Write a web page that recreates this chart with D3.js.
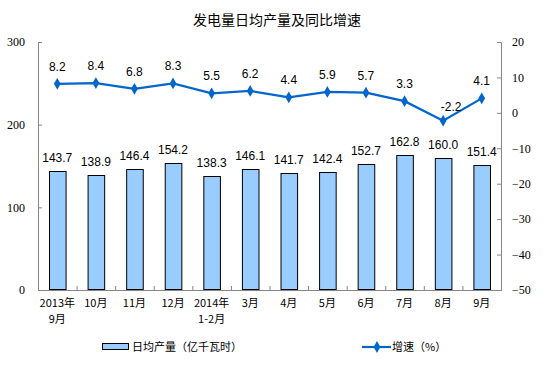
<!DOCTYPE html>
<html>
<head>
<meta charset="utf-8">
<script src="https://cdn.jsdelivr.net/npm/d3@7"></script>
<style>
  body { margin: 0; background: #fff; }
  .tickText { font-family: "Liberation Serif", serif; font-size: 12px; fill: #000; }
  .catText { font-family: "Noto Sans CJK SC", sans-serif; font-size: 11px; fill: #000; }
  .valText { font-family: "Liberation Sans", Arial, sans-serif; font-size: 12px; fill: #000; }
</style>
</head>
<body>
<div id="chart"></div>
<script>
var categories = [["2013年", "9月"], ["10月"], ["11月"], ["12月"], ["2014年", "1-2月"], ["3月"],
  ["4月"], ["5月"], ["6月"], ["7月"], ["8月"], ["9月"]];
var output = [143.7, 138.9, 146.4, 154.2, 138.3, 146.1, 141.7, 142.4, 152.7, 162.8, 160.0, 151.4];
var growth = [8.2, 8.4, 6.8, 8.3, 5.5, 6.2, 4.4, 5.9, 5.7, 3.3, -2.2, 4.1];
var leftTicks = [0, 100, 200, 300];
var rightTicks = [20, 10, 0, -10, -20, -30, -40, -50];

var svgWidth = 554;
var svgHeight = 382;
var margin = { top: 42, right: 53, bottom: 92, left: 38 };
var width = svgWidth - margin.left - margin.right;
var height = svgHeight - margin.top - margin.bottom;

var svg = d3.select("#chart")
  .append("svg")
  .attr("width", svgWidth)
  .attr("height", svgHeight);

svg.append("text")
  .attr("x", svgWidth / 2)
  .attr("y", 25)
  .attr("text-anchor", "middle")
  .style("font-family", "'Noto Sans CJK SC', sans-serif")
  .style("font-size", "14px")
  .text("发电量日均产量及同比增速");

var chartGroup = svg.append("g")
  .attr("transform", `translate(${margin.left}, ${margin.top})`);

var idx = d3.range(categories.length);

var xScale = d3.scaleBand()
  .domain(idx)
  .range([0, width])
  .paddingInner(0.57)
  .paddingOuter(0.285);

var xEdge = d3.scaleLinear()
  .domain([0, categories.length])
  .range([0, width]);

var yLeft = d3.scaleLinear().domain([0, 300]).range([height, 0]);
var yRight = d3.scaleLinear().domain([-50, 20]).range([height, 0]);

var axisColor = "#868686";

// left axis
var leftAxis = chartGroup.append("g")
  .call(d3.axisLeft(yLeft).tickValues(leftTicks).tickSizeInner(-4).tickSizeOuter(-4).tickPadding(13));
leftAxis.selectAll("text").attr("class", "tickText");

// right axis
var rightAxis = chartGroup.append("g")
  .attr("transform", `translate(${width}, 0)`)
  .call(d3.axisRight(yRight).tickValues(rightTicks).tickSizeInner(-4).tickSizeOuter(-4).tickPadding(11));
rightAxis.selectAll("text").attr("class", "tickText");

// bottom axis line and ticks between categories
var bottomAxis = chartGroup.append("g")
  .attr("transform", `translate(0, ${height})`)
  .call(d3.axisBottom(xEdge).tickValues(d3.range(1, categories.length)).tickSizeInner(-4).tickSizeOuter(0).tickFormat(""));

[leftAxis, rightAxis, bottomAxis].forEach(function(a) {
  a.select(".domain").attr("stroke", axisColor);
  a.selectAll(".tick line").attr("stroke", axisColor);
});

// bars
chartGroup.selectAll("rect.bar")
  .data(output)
  .enter()
  .append("rect")
  .attr("class", "bar")
  .attr("x", (d, i) => xScale(i) + 0.5)
  .attr("y", d => Math.round(yLeft(d)) + 0.5)
  .attr("width", xScale.bandwidth())
  .attr("height", d => height - Math.round(yLeft(d)) - 1)
  .attr("fill", "#99ccff")
  .attr("stroke", "#000")
  .attr("stroke-width", 1);

chartGroup.selectAll("text.barLabel")
  .data(output)
  .enter()
  .append("text")
  .attr("class", "valText")
  .attr("text-anchor", "middle")
  .attr("x", (d, i) => xScale(i) + xScale.bandwidth() / 2)
  .attr("y", d => yLeft(d) - 9)
  .text(d => d.toFixed(1));

// growth line
var line = d3.line()
  .x((d, i) => xScale(i) + xScale.bandwidth() / 2)
  .y(d => yRight(d));

chartGroup.append("path")
  .datum(growth)
  .attr("d", line)
  .attr("fill", "none")
  .attr("stroke", "#0066cc")
  .attr("stroke-width", 2.2);

var diamond = d3.symbol().type(d3.symbolDiamond).size(40);

chartGroup.selectAll("path.marker")
  .data(growth)
  .enter()
  .append("path")
  .attr("class", "marker")
  .attr("d", diamond)
  .attr("transform", (d, i) => `translate(${xScale(i) + xScale.bandwidth() / 2}, ${yRight(d)})`)
  .attr("fill", "#0066cc");

chartGroup.selectAll("text.lineLabel")
  .data(growth)
  .enter()
  .append("text")
  .attr("class", "valText")
  .attr("text-anchor", "middle")
  .attr("x", (d, i) => xScale(i) + xScale.bandwidth() / 2 + (d < 0 ? 8 : 0))
  .attr("y", d => yRight(d) - (d < 0 ? 10 : 13))
  .text(d => d.toFixed(1));

// category labels
var catGroup = chartGroup.selectAll("text.cat")
  .data(categories)
  .enter()
  .append("text")
  .attr("class", "catText")
  .attr("text-anchor", "middle");

catGroup.selectAll("tspan")
  .data((d, i) => d.map(t => ({ t: t, i: i })))
  .enter()
  .append("tspan")
  .attr("x", d => xScale(d.i) + xScale.bandwidth() / 2)
  .attr("y", (d, j) => height + 17 + j * 16)
  .text(d => d.t);

// legend
var legend = svg.append("g");

legend.append("rect")
  .attr("x", 102.5)
  .attr("y", 343.5)
  .attr("width", 26)
  .attr("height", 6)
  .attr("fill", "#99ccff")
  .attr("stroke", "#000");

legend.append("text")
  .attr("class", "catText")
  .attr("x", 132)
  .attr("y", 351)
  .text("日均产量（亿千瓦时）");

legend.append("line")
  .attr("x1", 362)
  .attr("x2", 391)
  .attr("y1", 347)
  .attr("y2", 347)
  .attr("stroke", "#0066cc")
  .attr("stroke-width", 2.2);

legend.append("path")
  .attr("d", diamond)
  .attr("transform", "translate(377, 347)")
  .attr("fill", "#0066cc");

legend.append("text")
  .attr("class", "catText")
  .attr("x", 392)
  .attr("y", 351)
  .text("增速（%）");
</script>
</body>
</html>
